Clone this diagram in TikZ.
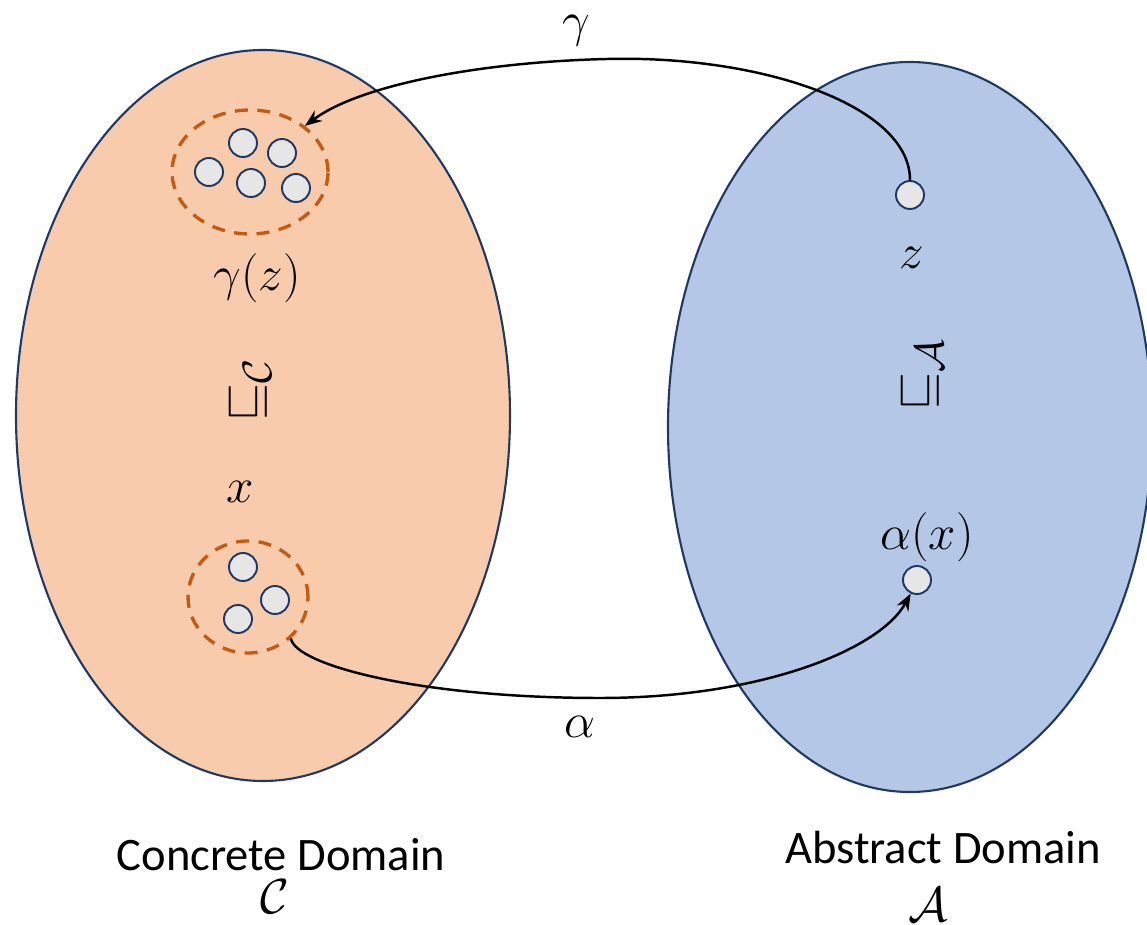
\documentclass[tikz,border=0pt]{standalone}
\usepackage{amsmath,amssymb}
\usepackage{fontspec}
\setmainfont{Carlito}
\usetikzlibrary{arrows.meta,positioning,shapes.geometric}
\definecolor{cdFill}{HTML}{F8CBAD}
\definecolor{adFill}{HTML}{B4C7E7}
\definecolor{edgeNavy}{HTML}{1F3864}
\definecolor{setOrange}{HTML}{C55A11}
\definecolor{dotGrey}{HTML}{E7E6E6}

\begin{document}
\begin{tikzpicture}[x=0.02cm,y=-0.02cm,>={Stealth[length=3.4mm,width=2.6mm]}]
  \tikzset{
    domblob/.style={draw=edgeNavy,line width=1.2pt},
    setring/.style={ellipse,draw=setOrange,line width=1.9pt,dash pattern=on 2.6mm off 1.9mm,inner sep=0pt},
    dot/.style={circle,fill=dotGrey,draw=edgeNavy,line width=1.1pt,minimum size=5.6mm,inner sep=0pt},
    mathlbl/.style={font=\Huge,scale=1.125,inner sep=0.5pt},
    domname/.style={font=\fontsize{26.5}{31}\selectfont,anchor=base,inner sep=0.5pt},
    map/.style={->,line width=1.4pt}
  }
  \useasboundingbox (0,0) rectangle (1147,925);
  \path[clip] (0,0) rectangle (1147,925);
  % the two domains
  \filldraw[domblob,fill=cdFill] (263,415.5) ellipse [x radius=247, y radius=365.5];
  \filldraw[domblob,fill=adFill] (910,427) ellipse [x radius=242, y radius=365];
  % sets of concrete elements
  \node[setring,minimum width=3.12cm,minimum height=2.48cm] (gzset) at (250,172) {};
  \node[setring,minimum width=2.4cm,minimum height=2.24cm] (xset) at (248,597) {};
  \foreach \px/\py [count=\k] in {209/172,243/143,282/153,251/183,296/188}
    \node[dot] (gdot\k) at (\px,\py) {};
  \foreach \px/\py [count=\k] in {243/567,275/600,238/619}
    \node[dot] (xdot\k) at (\px,\py) {};
  % abstract elements
  \node[dot] (zdot) at (910,195) {};
  \node[dot] (axdot) at (917,580) {};
  % the maps
  \draw[map] (zdot.north) .. controls (910,105) and (760,55) .. (607,59)
    .. controls (480,62) and (360,85) .. (gzset.40);
  \draw[map] (xset.-44) .. controls (295,665) and (420,698) .. (600,698)
    .. controls (760,698) and (880,650) .. (axdot.245);
  % labels
  \node[mathlbl] (gammalbl) at (576,31) {$\gamma$};
  \node[mathlbl] (alphalbl) at (580,727) {$\alpha$};
  \node[mathlbl] (gzlbl) at (257,278) {$\gamma(z)$};
  \node[mathlbl] (xlbl) at (240,492) {$x$};
  \node[mathlbl] (zlbl) at (912,258) {$z$};
  \node[mathlbl] (axlbl) at (927,537) {$\alpha(x)$};
  \node[mathlbl,rotate=90] (ordC) at (250,390) {$\sqsubseteq_{\mathcal{C}}$};
  \node[mathlbl,rotate=90] (ordA) at (922,375) {$\sqsubseteq_{\mathcal{A}}$};
  \node[domname] (cdname) at (281,870) {Concrete Domain};
  \node[mathlbl] (cdsym) at (275,897) {$\mathcal{C}$};
  \node[domname] (adname) at (943,864) {Abstract Domain};
  \node[mathlbl] (adsym) at (928,905) {$\mathcal{A}$};
\end{tikzpicture}
\end{document}
